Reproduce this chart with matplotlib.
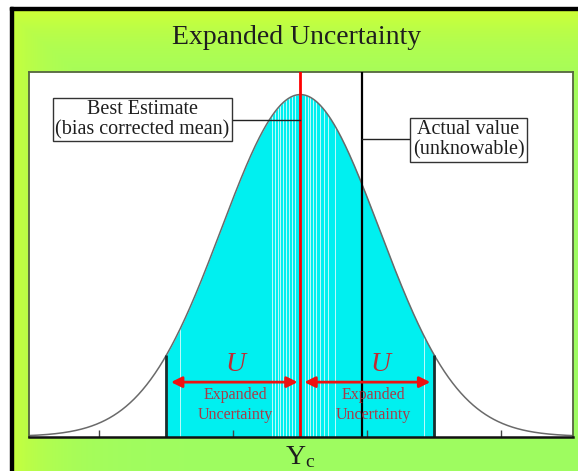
import numpy as np
import matplotlib
matplotlib.use("Agg")
import matplotlib.pyplot as plt
from matplotlib.patches import Rectangle

plt.rcParams['font.family'] = ['Liberation Serif', 'DejaVu Serif']
plt.rcParams['mathtext.fontset'] = 'custom'
plt.rcParams['mathtext.rm'] = 'Liberation Serif'
plt.rcParams['mathtext.it'] = 'Liberation Serif:italic'

# ---- data ----
title = "Expanded Uncertainty"
mean_value = 0.0            # best estimate (bias corrected mean)
curve_sigma = 1.18          # spread of the distribution (in tick units)
expanded_U = 2.0            # expanded uncertainty half-width
actual_value = 0.925        # actual (unknowable) value
tick_positions = [-3, -2, -1, 0, 1, 2, 3]
x_label = r"$\mathrm{Y_c}$"
best_label = "Best Estimate\n(bias corrected mean)"
actual_label = "Actual value\n(unknowable)"
u_label = "U"
u_text = "Expanded\nUncertainty"
streaks = [-1.79, -0.42, -0.38, -0.34, -0.30, -0.26, -0.21, -0.17, -0.12, -0.08,
           0.07, 0.11, 0.15, 0.19, 0.24, 0.29, 0.35, 0.41, 0.52, 1.85]

x = np.linspace(-4.1, 4.1, 800)
pdf = np.exp(-0.5 * ((x - mean_value) / curve_sigma) ** 2)

def curve(v):
    return np.exp(-0.5 * ((v - mean_value) / curve_sigma) ** 2)

fig = plt.figure(figsize=(5.78, 4.71), dpi=100)

# background gradient
bg = fig.add_axes([0, 0, 1, 1], zorder=-5)
H, W = 471, 578
yy, xx = np.mgrid[0:H, 0:W]
yel = np.array([0.82, 1.0, 0.20])
grn = np.array([0.62, 0.99, 0.38])
w = np.maximum(np.exp(-(yy - 8) / 38.0).clip(0, 1), np.exp(-(xx - 12) / 45.0).clip(0, 1) * 0.8)
img = w[..., None] * yel + (1 - w[..., None]) * grn
bg.imshow(img, extent=[0, W, H, 0], aspect='auto')
bg.set_xlim(0, W); bg.set_ylim(H, 0)
bg.axis('off')
# white margin + black frame lines
bg.add_patch(Rectangle((0, 0), 10, H, color='white', zorder=2))
bg.add_patch(Rectangle((0, 0), W, 7, color='white', zorder=2))
bg.add_patch(Rectangle((10, 7), 2.5, H, color='black', zorder=3))
bg.add_patch(Rectangle((10, 7), W, 2.5, color='black', zorder=3))

ax = fig.add_axes([29 / 578, 1 - 436.5 / 471, (573 - 29) / 578, (436.5 - 72) / 471])
ax.set_facecolor('white')
ax.set_xlim(-4.05, 4.07)
ax.set_ylim(0, 1.066)

# filled region within +-U
mask = (x >= mean_value - expanded_U) & (x <= mean_value + expanded_U)
ax.fill_between(x[mask], 0, pdf[mask], color='#00f0f0', lw=0, zorder=1)
for s in streaks:
    ax.vlines(s, 0, curve(s), color='white', lw=0.7, alpha=0.75, zorder=1.5)
ax.plot(x, pdf, color='#6a6a6a', lw=1.1, zorder=2)

# cutoff lines
for c in (mean_value - expanded_U, mean_value + expanded_U):
    ax.vlines(c, 0, curve(c), color='#1c2e2e', lw=2.0, zorder=3)

# mean (red) and actual value (black) lines
ax.axvline(mean_value, color='red', lw=2.0, zorder=4)
ax.axvline(actual_value, color='black', lw=1.6, zorder=3)

# callout boxes
txtc = '#1e1e1e'
ax.text(-2.36, 0.927, best_label, ha='center', va='center', fontsize=14.5,
        linespacing=1.05, zorder=6, color=txtc,
        bbox=dict(boxstyle='square,pad=0.12', fc='white', ec='#333333', lw=1.0))
ax.plot([-1.01, mean_value], [0.925, 0.925], color='#222222', lw=1.0, zorder=5)
ax.text(2.51, 0.868, actual_label, ha='center', va='center', fontsize=14.5,
        linespacing=1.05, zorder=6, color=txtc,
        bbox=dict(boxstyle='square,pad=0.12', fc='white', ec='#333333', lw=1.0))
ax.plot([actual_value, 1.63], [0.87, 0.87], color='#222222', lw=1.0, zorder=5)

# expanded uncertainty arrows
arrow_y = 0.159
for a, b in ((mean_value - expanded_U + 0.07, mean_value - 0.04),
             (mean_value + 0.06, mean_value + expanded_U - 0.06)):
    ax.annotate('', xy=(a, arrow_y), xytext=(b, arrow_y),
                arrowprops=dict(arrowstyle='<|-|>', color='#ee1111', lw=2.0,
                                mutation_scale=16, shrinkA=0, shrinkB=0), zorder=7)
maroon = '#a83a48'
ax.text(-0.97, 0.212, u_label, ha='center', va='center', fontsize=20,
        style='italic', color='#c02a32', zorder=7)
ax.text(1.19, 0.212, u_label, ha='center', va='center', fontsize=20,
        style='italic', color='#c02a32', zorder=7)
ax.text(-0.97, 0.093, u_text, ha='center', va='center', fontsize=11.5,
        color=maroon, linespacing=1.3, zorder=7)
ax.text(1.09, 0.093, u_text, ha='center', va='center', fontsize=11.5,
        color=maroon, linespacing=1.3, zorder=7)

# axes styling
ax.set_xticks(tick_positions)
ax.set_xticklabels([])
ax.tick_params(axis='x', direction='in', length=5, width=1, color='#444444')
ax.set_yticks([])
for side in ('top', 'left', 'right'):
    ax.spines[side].set_color('#55663f')
    ax.spines[side].set_linewidth(1.3)
ax.spines['bottom'].set_color('#111111')
ax.spines['bottom'].set_linewidth(1.8)
ax.spines['bottom'].set_zorder(8)

ax.text(mean_value, -0.06, x_label, ha='center', va='center', fontsize=20,
        color=txtc, clip_on=False)

fig.text(297 / 578, 1 - 38 / 471, title, ha='center', va='center', fontsize=20,
         color=txtc)

fig.savefig('out.png', dpi=100)
